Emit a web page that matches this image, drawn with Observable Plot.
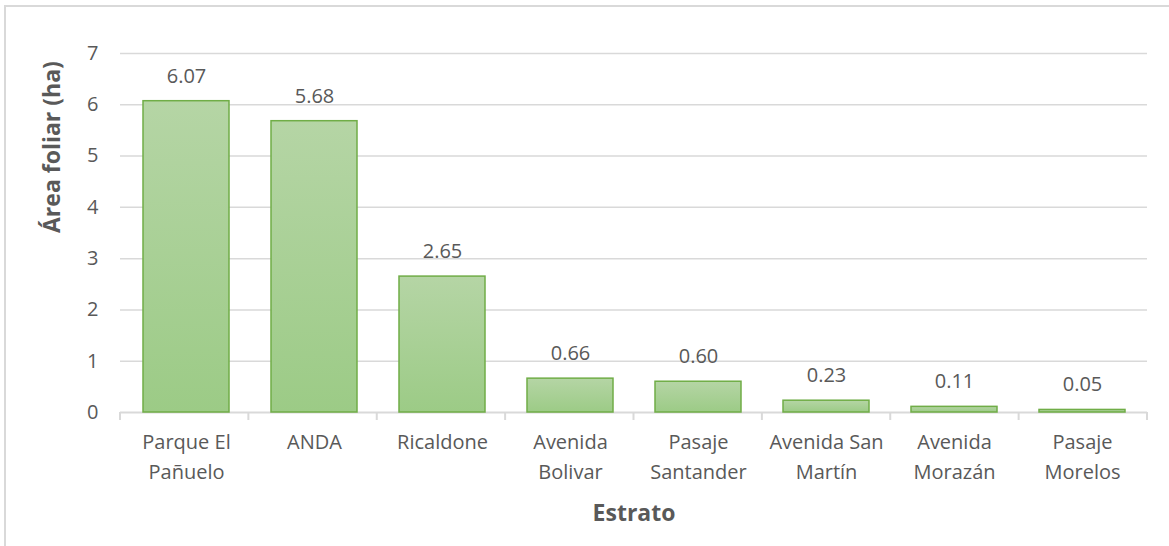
<!DOCTYPE html>
<html>
<head>
<meta charset="utf-8">
<script src="https://cdn.jsdelivr.net/npm/d3@7"></script>
<script src="https://cdn.jsdelivr.net/npm/@observablehq/plot@0.6"></script>
<style>
  html, body { margin: 0; padding: 0; background: #fff; overflow: hidden; }
  #wrap { position: relative; width: 1169px; height: 546px; }
  #frame { position: absolute; left: 4px; top: 5px; width: 1200px; height: 600px;
           border: 2px solid #d9d9d9; box-sizing: border-box; pointer-events: none; }
  #chart { position: absolute; left: 0; top: 0; }
  svg text { font-family: "Open Sans", Lato, sans-serif; }
</style>
</head>
<body>
<div id="wrap"><div id="chart"></div><div id="frame"></div></div>
<script>
// Leaf area per stratum (ha)
const categories = ["Parque El\nPañuelo", "ANDA", "Ricaldone", "Avenida\nBolivar", "Pasaje\nSantander", "Avenida San\nMartín", "Avenida\nMorazán", "Pasaje\nMorelos"];
const values = [6.07, 5.68, 2.65, 0.66, 0.60, 0.23, 0.11, 0.05];
const yTicks = [0, 1, 2, 3, 4, 5, 6, 7];

const rows = categories.map((c, i) => ({estrato: c, area: values[i]}));
const textColor = "#595959";
const gridColor = "#d9d9d9";

// Vertical gradient shared by all bars (per-bar bounding box)
const defs = () => {
  const g = d3.create("svg:defs");
  const lg = g.append("linearGradient").attr("id", "barFill")
    .attr("x1", 0).attr("y1", 0).attr("x2", 0).attr("y2", 1);
  lg.append("stop").attr("offset", "0%").attr("stop-color", "#b5d5a5");
  lg.append("stop").attr("offset", "100%").attr("stop-color", "#9ccb86");
  return g.node();
};

// Category boundary tick marks below the baseline
const boundaryTicks = (index, scales, channels, dims) => {
  const n = categories.length;
  const x0 = dims.marginLeft, x1 = dims.width - dims.marginRight;
  const step = (x1 - x0) / n;
  const yb = scales.y(0);
  const g = d3.create("svg:g").attr("stroke", gridColor).attr("stroke-width", 2);
  for (let k = 0; k <= n; k++) {
    const xp = x0 + k * step;
    g.append("line").attr("x1", xp).attr("x2", xp).attr("y1", yb).attr("y2", yb + 8);
  }
  return g.node();
};

const chart = Plot.plot({
  width: 1169,
  height: 546,
  marginTop: 53,
  marginBottom: 134,
  marginLeft: 120,
  marginRight: 22,
  style: {fontSize: "20px", color: textColor, background: "transparent"},
  x: {domain: categories, paddingInner: 0.33, paddingOuter: 0.165, align: 0.5},
  y: {domain: [0, 7]},
  marks: [
    defs,
    Plot.ruleY(yTicks.filter(d => d > 0), {stroke: gridColor, strokeWidth: 1.5, strokeOpacity: 1}),
    Plot.ruleY([0], {stroke: gridColor, strokeWidth: 2, strokeOpacity: 1}),
    boundaryTicks,
    Plot.barY(rows, {x: "estrato", y: "area", fill: "url(#barFill)", stroke: "#70ad47", strokeWidth: 1.5}),
    Plot.text(rows, {x: "estrato", y: "area", text: d => d.area.toFixed(2), dy: -25, fill: textColor, fontSize: 20}),
    Plot.axisY({ticks: yTicks, tickSize: 0, tickPadding: 22, tickFormat: d => String(d), fill: textColor, fontSize: 20, label: null}),
    Plot.axisX({tickSize: 0, tickPadding: 16, fill: textColor, fontSize: 20, lineHeight: 1.47, label: null}),
    Plot.text(["Área foliar (ha)"], {frameAnchor: "left", dx: -68, rotate: -90, fontWeight: "bold", fontSize: 23, fill: textColor}),
    Plot.text(["Estrato"], {frameAnchor: "bottom", dy: 108, fontWeight: "bold", fontSize: 23, fill: textColor})
  ]
});
document.getElementById("chart").appendChild(chart);
</script>
</body>
</html>
